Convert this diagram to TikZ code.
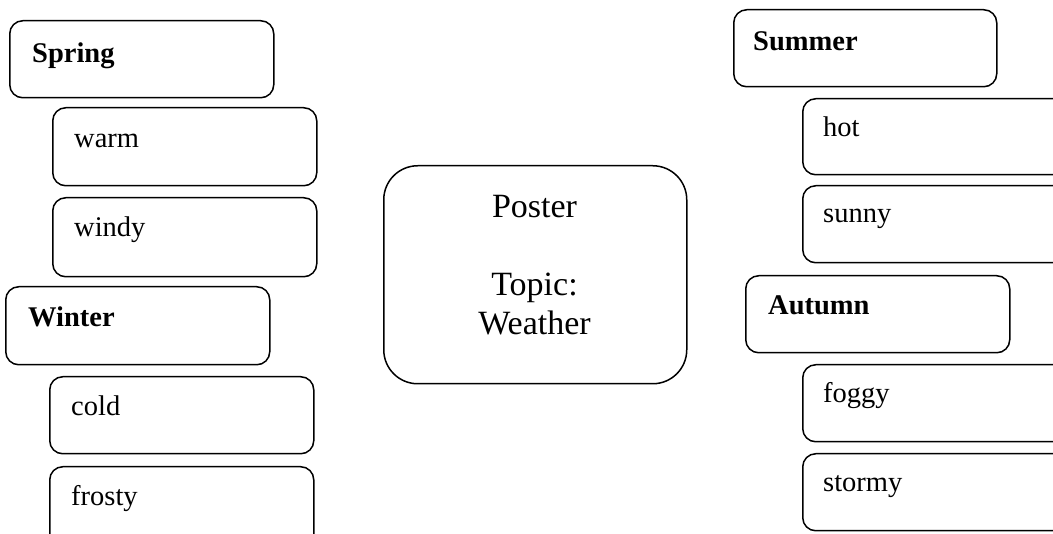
\documentclass[tikz,border=0pt]{standalone}
\usepackage{fontspec}
\setmainfont{Liberation Serif}
\begin{document}
\begin{tikzpicture}[x=1pt,y=-1pt,
  box/.style={draw, line width=1.5pt, rounded corners=13pt, anchor=north west, inner sep=0pt, minimum width=264pt, minimum height=77pt},
  widebox/.style={box, minimum width=320pt},
  bigbox/.style={draw, line width=1.5pt, rounded corners=34pt, anchor=north west, inner sep=0pt, minimum width=303pt, minimum height=218pt},
  lbl/.style={anchor=base west, inner sep=0pt, font=\fontsize{28.5}{34}\selectfont},
  head/.style={lbl, font=\fontsize{28.5}{34}\selectfont\bfseries},
  ctr/.style={anchor=base, inner sep=0pt, font=\fontsize{34}{39}\selectfont}]
\useasboundingbox (0,0) rectangle (1053,534);
\clip (0,0) rectangle (1053,534);
% left column
\node[box] (spring) at (9,20) {};
\node[box, minimum height=78pt] (warm) at (52,107) {};
\node[box, minimum height=79pt] (windy) at (52,197) {};
\node[box, minimum height=78pt] (winter) at (5,286) {};
\node[box] (cold) at (49,376) {};
\node[box, minimum height=110pt] (frosty) at (49,466) {};
\node[head] (tspring) at (32,63) {Spring};
\node[lbl] (twarm) at (74,148) {warm};
\node[lbl] (twindy) at (74,237) {windy};
\node[head] (twinter) at (28,327) {Winter};
\node[lbl] (tcold) at (71,416) {cold};
\node[lbl] (tfrosty) at (71,506) {frosty};
% centre
\node[bigbox] (poster) at (383,165) {};
\node[ctr] (tposter) at (534.5,218) {Poster};
\node[ctr] (ttopic) at (534.5,296) {Topic:};
\node[ctr] (tweather) at (534.5,335) {Weather};
% right column
\node[box, minimum width=263pt] (summer) at (733,9) {};
\node[widebox, minimum height=76pt] (hot) at (802,98) {};
\node[widebox] (sunny) at (802,185) {};
\node[box] (autumn) at (745,275) {};
\node[widebox] (foggy) at (802,364) {};
\node[widebox] (stormy) at (802,453) {};
\node[head] (tsummer) at (753,51) {Summer};
\node[lbl] (thot) at (823,137) {hot};
\node[lbl] (tsunny) at (823,223) {sunny};
\node[head] (tautumn) at (768,315) {Autumn};
\node[lbl] (tfoggy) at (823,403) {foggy};
\node[lbl] (tstormy) at (823,492) {stormy};
\end{tikzpicture}
\end{document}
